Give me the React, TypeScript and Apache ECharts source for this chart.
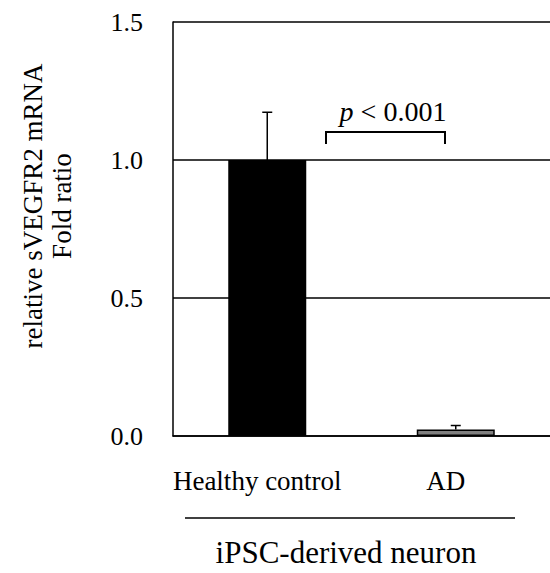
import React, { useEffect, useRef } from "react";
import * as echarts from "echarts";

const categories = ["Healthy control", "AD"];
const values = [1.0, 0.024];
const errors = [0.173, 0.014];
const barColors = ["#000000", "#808080"];
const yTickMin = 0;
const yTickMax = 1.5;
const yTickStep = 0.5;
const yTitle = "relative sVEGFR2 mRNA\nFold ratio";
const xTitle = "iPSC-derived neuron";
const pText = "p";
const pRest = " < 0.001";

const FONT = "Liberation Serif";

export default function App() {
  const ref = useRef<HTMLDivElement>(null);
  useEffect(() => {
    if (!ref.current) return;
    const chart = echarts.init(ref.current, undefined, { renderer: "svg" });
    const option: any = {
      animation: false,
      backgroundColor: "#ffffff",
      textStyle: { fontFamily: FONT, color: "#000" },
      grid: { left: 173, top: 22, width: 382, height: 414, containLabel: false },
      xAxis: {
        type: "category",
        data: categories,
        axisLine: { show: true, lineStyle: { color: "#000", width: 1.5 } },
        axisTick: { show: false },
        axisLabel: {
          color: "#000",
          fontSize: 27,
          fontFamily: FONT,
          margin: 31,
          interval: 0,
          padding: [0, 20, 0, 0],
        },
        splitLine: { show: false },
      },
      yAxis: {
        type: "value",
        min: yTickMin,
        max: yTickMax,
        interval: yTickStep,
        axisLine: { show: true, lineStyle: { color: "#000", width: 1.5 } },
        axisTick: { show: false },
        axisLabel: {
          color: "#000",
          fontSize: 26,
          fontFamily: FONT,
          margin: 30,
          formatter: (v: number) => v.toFixed(1),
        },
        splitLine: { show: true, lineStyle: { color: "#000", width: 1.5 } },
      },
      series: [
        {
          type: "bar",
          barWidth: 78,
          data: values.map((v, i) => ({
            value: v,
            itemStyle: {
              color: barColors[i],
              borderColor: "#000",
              borderWidth: i === 0 ? 0 : 1.5,
            },
          })),
          z: 2,
        },
        {
          type: "custom",
          z: 3,
          data: categories.map((c, i) => [i, values[i], errors[i]]),
          renderItem: (params: any, api: any) => {
            const x = api.value(0);
            const v = api.value(1);
            const e = api.value(2);
            const p0 = api.coord([x, v]);
            const p1 = api.coord([x, v + e]);
            const style = { stroke: "#000", lineWidth: 1.5 };
            return {
              type: "group",
              children: [
                { type: "line", shape: { x1: p0[0], y1: p0[1], x2: p1[0], y2: p1[1] }, style },
                { type: "line", shape: { x1: p1[0] - 5, y1: p1[1], x2: p1[0] + 5, y2: p1[1] }, style },
              ],
            };
          },
        },
      ],
      graphic: [
        {
          type: "text",
          x: 47,
          y: 206,
          rotation: Math.PI / 2,
          style: {
            text: yTitle,
            fontSize: 27,
            lineHeight: 29,
            fontFamily: FONT,
            fill: "#000",
            align: "center",
            verticalAlign: "middle",
          },
        },
        {
          type: "line",
          shape: { x1: 185, y1: 518, x2: 515, y2: 518 },
          style: { stroke: "#000", lineWidth: 1.5 },
        },
        {
          type: "text",
          x: 346,
          y: 552,
          style: {
            text: xTitle,
            fontSize: 31,
            fontFamily: FONT,
            fill: "#000",
            align: "center",
            verticalAlign: "middle",
          },
        },
        {
          type: "polyline",
          shape: { points: [[326, 144], [326, 132], [445, 132], [445, 144]] },
          style: { stroke: "#000", lineWidth: 2, fill: "none" },
        },
        {
          type: "text",
          x: 393,
          y: 111,
          style: {
            text: "{i|" + pText + "}{n|" + pRest + "}",
            align: "center",
            verticalAlign: "middle",
            fontFamily: FONT,
            fontSize: 28,
            fill: "#000",
            rich: {
              i: { fontStyle: "italic", fontSize: 28, fontFamily: FONT, fill: "#000" },
              n: { fontSize: 28, fontFamily: FONT, fill: "#000" },
            },
          },
        },
      ],
    };
    chart.setOption(option);
    return () => chart.dispose();
  }, []);
  return (
    <div
      ref={ref}
      style={{ position: "absolute", left: 0, top: 0, width: 550, height: 573 }}
    />
  );
}
